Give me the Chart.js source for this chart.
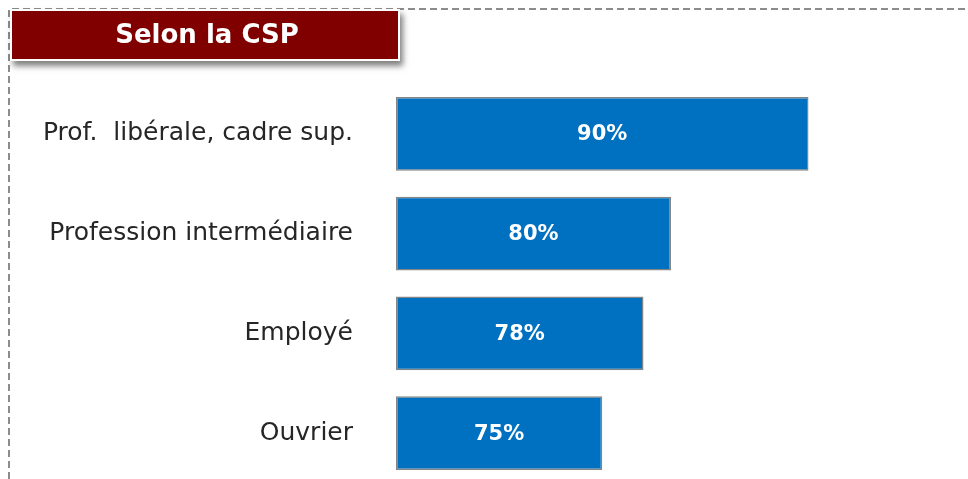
<!DOCTYPE html>
<html>
<head>
<meta charset="utf-8">
<script src="https://cdn.jsdelivr.net/npm/chart.js@4/dist/chart.umd.min.js"></script>
<style>
  html, body { margin: 0; padding: 0; background: #fff; overflow: hidden; }
  #wrap { position: relative; width: 968px; height: 479px; overflow: hidden; }
</style>
</head>
<body>
<div id="wrap"><canvas id="csp" width="968" height="541"></canvas></div>
<script>
var categories = ['Prof.  libérale, cadre sup.', 'Profession intermédiaire', 'Employé', 'Ouvrier'];
var values = [90, 80, 78, 75];
var chartTitle = 'Selon la CSP';

var FONT = '"DejaVu Sans", sans-serif';

// dashed frame + title banner
var framePlugin = {
    id: 'frame',
    beforeDraw: function (chart) {
        var ctx = chart.ctx;
        ctx.save();
        ctx.strokeStyle = '#8c8c8c';
        ctx.lineWidth = 2;
        ctx.setLineDash([7, 4]);
        ctx.beginPath();
        ctx.moveTo(9, 545);
        ctx.lineTo(9, 9);
        ctx.lineTo(1000, 9);
        ctx.stroke();
        ctx.restore();
    },
    afterDraw: function (chart) {
        var ctx = chart.ctx;
        ctx.save();
        ctx.shadowColor = 'rgba(0,0,0,0.5)';
        ctx.shadowBlur = 6;
        ctx.shadowOffsetX = 3;
        ctx.shadowOffsetY = 5;
        ctx.fillStyle = '#fff';
        ctx.fillRect(10, 9, 390, 52);
        ctx.restore();
        ctx.save();
        ctx.fillStyle = '#800000';
        ctx.fillRect(12, 11, 386, 48);
        ctx.fillStyle = '#fff';
        ctx.font = 'bold 26px ' + FONT;
        ctx.textAlign = 'center';
        ctx.textBaseline = 'middle';
        ctx.fillText(chartTitle, 207, 36);
        ctx.restore();
    }
};

// value labels inside the bars
var valueLabels = {
    id: 'valueLabels',
    afterDatasetsDraw: function (chart) {
        var ctx = chart.ctx;
        var meta = chart.getDatasetMeta(0);
        var left = chart.chartArea.left;
        ctx.save();
        ctx.fillStyle = '#fff';
        ctx.font = 'bold 21px ' + FONT;
        ctx.textAlign = 'center';
        ctx.textBaseline = 'middle';
        meta.data.forEach(function (bar, i) {
            var cx = (Math.max(bar.base, left) + bar.x) / 2;
            ctx.fillText(values[i] + '%', cx, bar.y + 1);
        });
        ctx.restore();
    }
};

var ctx = document.getElementById('csp').getContext('2d');
var chart = new Chart(ctx, {
    type: 'bar',
    data: {
        labels: categories,
        datasets: [{
            data: values,
            base: 60,
            backgroundColor: '#0070c0',
            borderColor: '#858585',
            borderWidth: 1.5,
            borderSkipped: false,
            barPercentage: 0.74,
            categoryPercentage: 1
        }]
    },
    options: {
        indexAxis: 'y',
        responsive: false,
        animation: false,
        devicePixelRatio: 1,
        layout: { padding: { top: 84, bottom: 9, right: 22, left: 0 } },
        plugins: {
            legend: { display: false },
            tooltip: { enabled: false }
        },
        scales: {
            x: { min: 60, max: 100, display: false },
            y: {
                afterFit: function (scale) { scale.width = 396; },
                grid: { display: false, drawTicks: false },
                border: { display: false },
                ticks: { color: '#262626', font: { family: FONT, size: 25 }, padding: 43 }
            }
        }
    },
    plugins: [framePlugin, valueLabels]
});
</script>
</body>
</html>
